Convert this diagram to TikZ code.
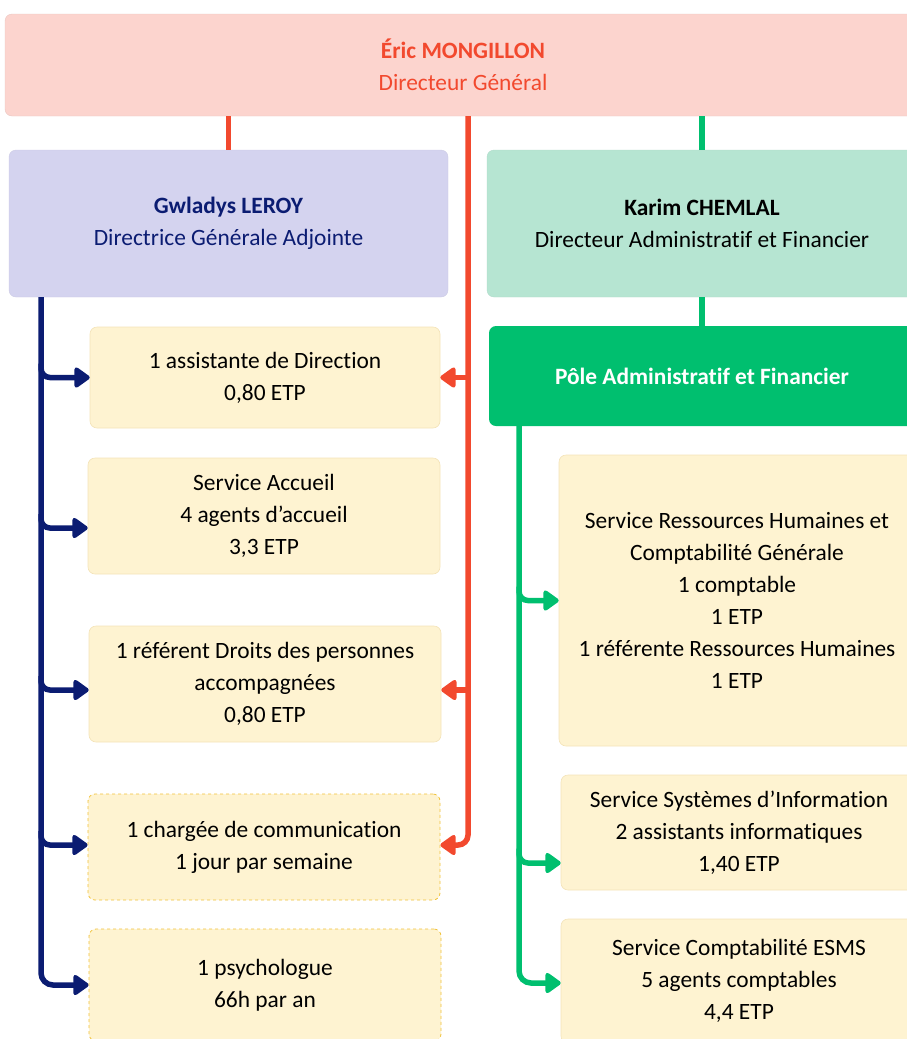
\documentclass[tikz,border=0pt]{standalone}
\usepackage{fontspec}
\setmainfont{Carlito}[Ligatures=NoCommon]
\usetikzlibrary{arrows.meta,calc}
\definecolor{dgfill}{HTML}{FCD4CE}
\definecolor{dgred}{HTML}{F2492E}
\definecolor{glfill}{HTML}{D4D3EF}
\definecolor{navy}{HTML}{0B1C72}
\definecolor{kcfill}{HTML}{B6E5D2}
\definecolor{pgreen}{HTML}{00BF6F}
\definecolor{yfill}{HTML}{FEF3D1}
\definecolor{yedge}{HTML}{F3E3B8}
\definecolor{ydash}{HTML}{F0C23A}
\begin{document}
\begin{tikzpicture}[x=1pt,y=-1pt,
  box/.style={rectangle, rounded corners=7pt, align=center, inner sep=0pt,
    font=\fontsize{23.4}{32}\selectfont},
  ybox/.style={box, fill=yfill, draw=yedge, line width=0.6pt},
  dbox/.style={box, fill=yfill, draw=ydash, dashed, line width=0.8pt},
  arrtip/.style={-{Triangle[length=17pt,width=23pt,round]}},
  redl/.style={draw=dgred, line width=5.5pt},
  navyl/.style={draw=navy, line width=5.5pt},
  greenl/.style={draw=pgreen, line width=5.5pt}]
\useasboundingbox (0,0) rectangle (907,1039);
% top
\node[box, fill=dgfill, draw=dgfill!85!gray, text=dgred, minimum width=916pt, minimum height=102pt] (dg) at (463,65)
  {\textbf{Éric MONGILLON}\\Directeur Général};
\node[box, fill=glfill, draw=glfill!90!gray, text=navy, minimum width=439pt, minimum height=147pt] (gl) at (228.5,223.5)
  {\textbf{Gwladys LEROY}\\Directrice Générale Adjointe};
\node[box, fill=kcfill, draw=kcfill!90!gray, text=black, minimum width=430pt, minimum height=147pt] (kc) at (702,223.5)
  {\textbf{Karim CHEMLAL}\\Directeur Administratif et Financier};
\node[box, fill=pgreen, text=white, minimum width=426pt, minimum height=100pt] (pole) at (702,376)
  {\textbf{Pôle Administratif et Financier}};
% left boxes
\node[ybox, minimum width=350pt, minimum height=101pt] (b1) at (265,377.5)
  {1 assistante de Direction\\0,80 ETP};
\node[ybox, minimum width=352pt, minimum height=116pt] (b2) at (264,516)
  {Service Accueil\\4 agents d’accueil\\3,3 ETP};
\node[ybox, minimum width=352pt, minimum height=116pt] (b3) at (265,684)
  {1 référent Droits des personnes\\accompagnées\\0,80 ETP};
\node[dbox, minimum width=352pt, minimum height=106pt] (b4) at (264,847)
  {1 chargée de communication\\1 jour par semaine};
\node[dbox, minimum width=352pt, minimum height=112pt] (b5) at (265,985)
  {1 psychologue\\66h par an};
% right boxes
\node[ybox, minimum width=356pt, minimum height=291pt] (r1) at (737,600.5)
  {Service Ressources Humaines et\\Comptabilité Générale\\1 comptable\\1 ETP\\1 référente Ressources Humaines\\1 ETP};
\node[ybox, minimum width=356pt, minimum height=115pt] (r2) at (739,832.5)
  {Service Systèmes d’Information\\2 assistants informatiques\\1,40 ETP};
\node[ybox, minimum width=356pt, minimum height=124pt] (r3) at (739,981)
  {Service Comptabilité ESMS\\5 agents comptables\\4,4 ETP};
% connectors top
\draw[redl] (dg.south -| gl.north) -- (gl.north);
\draw[greenl] (dg.south -| kc.north) -- (kc.north);
\draw[greenl] (kc.south) -- (pole.north);
% red
\coordinate (rtop) at (dg.south -| 468,0);
\draw[redl, arrtip, rounded corners=10pt] (rtop) |- ([yshift=2pt]b4.east);
\draw[redl, arrtip] (rtop |- b1.east) -- (b1.east);
\draw[redl, arrtip] ([yshift=-6pt]rtop |- b3.east) -- ([yshift=-6pt]b3.east);
% navy
\coordinate (ntop) at (gl.south -| 41,0);
\draw[navyl, arrtip, rounded corners=12pt] (ntop) |- (b5.west);
\draw[navyl, arrtip, rounded corners=9pt] ($(ntop |- b1.west)+(0,-14)$) |- (b1.west);
\draw[navyl, arrtip, rounded corners=9pt] ($(ntop |- b2.west)+(0,-2)$) |- ([yshift=-12pt]b2.west);
\draw[navyl, arrtip, rounded corners=9pt] ($(ntop |- b3.west)+(0,-8)$) |- ([yshift=-6pt]b3.west);
\draw[navyl, arrtip, rounded corners=9pt] ($(ntop |- b4.west)+(0,-16)$) |- ([yshift=2pt]b4.west);
% green
\coordinate (gtop) at (pole.south -| 519,0);
\draw[greenl, arrtip, rounded corners=12pt] (gtop) |- ([yshift=-2pt]r3.west);
\draw[greenl, arrtip, rounded corners=9pt] ($(gtop |- r1.west)+(0,-14)$) |- (r1.west);
\draw[greenl, arrtip, rounded corners=9pt] ($(gtop |- r2.west)+(0,16)$) |- ([yshift=-30.5pt]r2.west);
\end{tikzpicture}
\end{document}
